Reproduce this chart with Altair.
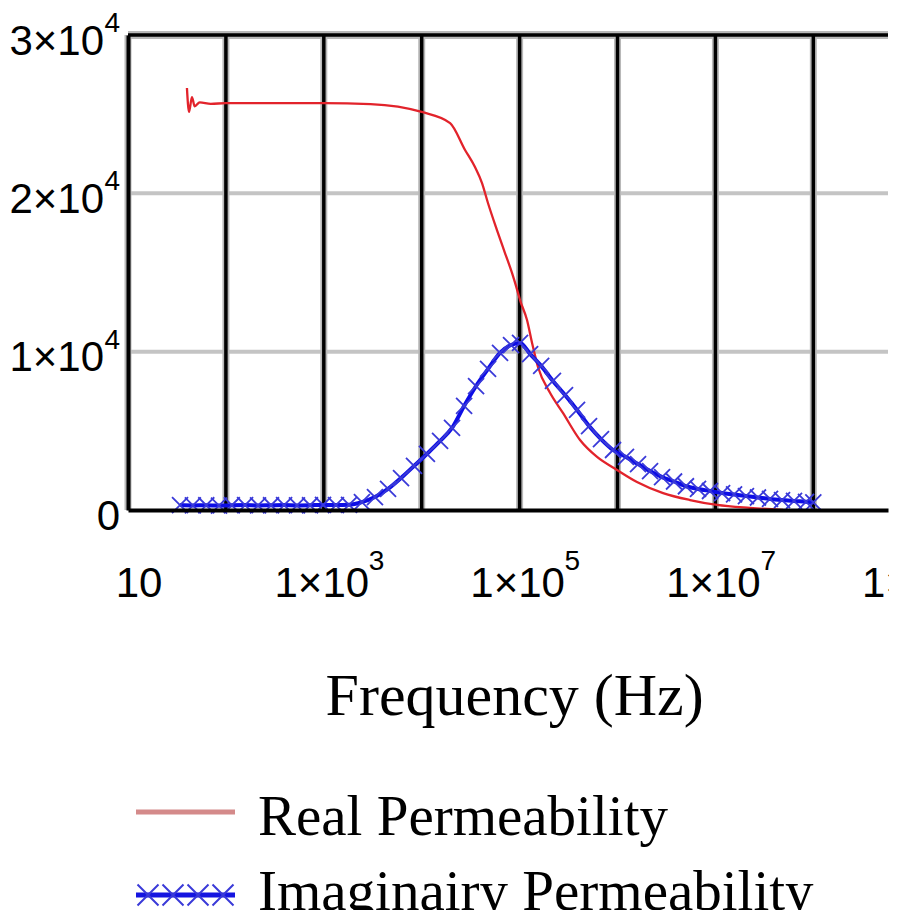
import altair as alt
import pandas as pd

# ---- data ----
freq_real = [40, 42, 45, 48, 54, 70, 100, 300, 1000, 3000,
             10000, 19500, 27700, 35000, 41300, 47500, 58700, 70900, 83600, 96400,
             101000, 119000, 134000, 154000, 205000, 277000, 414000, 618000, 989000, 1580000,
             2920000, 5500000, 10400000, 22500000, 49000000]
mu_real = [26650, 25140, 26080, 25500, 25750, 25650, 25700, 25700, 25700, 25640,
           25140, 24440, 22740, 21660, 20650, 19390, 17680, 16230, 14970, 13700,
           13260, 12000, 10550, 9030, 7390, 6130, 4420, 3350, 2530, 1770,
           1070, 630, 320, 130, 0]

freq_imag = [34, 46, 63, 85, 115, 157, 213, 289, 393, 532,
             723, 982, 1330, 1810, 2450, 3330, 4530, 6150, 8340, 11300,
             15400, 20400, 27100, 35900, 47600, 63100, 81700, 101000, 128000, 166000,
             219000, 291000, 386000, 512000, 678000, 900000, 1220000, 1620000, 2150000, 2850000,
             3780000, 5000000, 6640000, 8800000, 11700000, 15500000, 20500000, 27200000, 36100000, 47900000,
             63500000, 84200000, 100000000]
mu_imag = [310, 290, 300, 280, 300, 310, 290, 300, 310, 290,
           300, 320, 310, 330, 500, 820, 1330, 2020, 2780, 3540,
           4360, 5180, 6570, 7830, 8910, 9920, 10420, 10550, 9850, 9100,
           8150, 7260, 6320, 5300, 4480, 3790, 3350, 2900, 2460, 2080,
           1800, 1500, 1330, 1200, 1070, 980, 880, 790, 700, 630,
           570, 520, 480]

# tick labels (mantissa part and superscript exponent part)
x_first_tick = [10]
x_first_label = ["10"]
x_pow_ticks = [1000, 100000, 10000000, 1000000000]
x_pow_labels = ["1×10", "1×10", "1×10", "1×10"]
x_pow_exps = ["3", "5", "7", "9"]
y_zero_tick = [0]
y_zero_label = ["0"]
y_pow_ticks = [10000, 20000, 30000]
y_pow_labels = ["1×10", "2×10", "3×10"]
y_pow_exps = ["4", "4", "4"]

v_grid = [10, 100, 1000, 10000, 100000, 1000000, 10000000, 100000000]
h_grid = [10000, 20000]
top_line = [30000]

series_names = ["Real Permeability", "Imaginairy Permeability"]
x_title = "Frequency (Hz)"

X_MAX = 5.79e8
xscale = alt.Scale(type="log", domain=[10, X_MAX], nice=False)
yscale = alt.Scale(domain=[0, 30000], nice=False, zero=False)

real = pd.DataFrame({"f": freq_real, "mu": mu_real})
imag = pd.DataFrame({"f": freq_imag, "mu": mu_imag})
one = pd.DataFrame({"k": [0]})

XMARK = "M-1,-1L1,1M-1,1L1,-1"
SANS = "Liberation Sans"
SERIF = "Liberation Serif"
LBL = 42
EXP = 28

x_axis = alt.Axis(labels=False, grid=False, ticks=False, tickSize=0,
                  domainColor="black", domainWidth=4, title=None, zindex=1)
y_axis = alt.Axis(labels=False, grid=False, ticks=False, tickSize=0,
                  domainColor="black", domainWidth=4, title=None, zindex=1)

hgrid = alt.Chart(pd.DataFrame({"y": h_grid})).mark_rule(color="#c4c4c4", strokeWidth=4).encode(
    y=alt.Y("y:Q", scale=yscale))
vgrid_halo = alt.Chart(pd.DataFrame({"f": v_grid})).mark_rule(color="#b8b8b8", strokeWidth=7).encode(
    x=alt.X("f:Q", scale=xscale))
top_halo = alt.Chart(pd.DataFrame({"y": top_line})).mark_rule(color="#b8b8b8", strokeWidth=8).encode(
    y=alt.Y("y:Q", scale=yscale))
vgrid = alt.Chart(pd.DataFrame({"f": v_grid[1:]})).mark_rule(color="black", strokeWidth=3.5).encode(
    x=alt.X("f:Q", scale=xscale))
top_border = alt.Chart(pd.DataFrame({"y": top_line})).mark_rule(color="black", strokeWidth=3.5).encode(
    y=alt.Y("y:Q", scale=yscale))

real_line = alt.Chart(real).mark_line(color="#e2232b", strokeWidth=2.3, interpolate="monotone").encode(
    x=alt.X("f:Q", scale=xscale, axis=x_axis),
    y=alt.Y("mu:Q", scale=yscale, axis=y_axis),
    order="f:Q")
imag_line = alt.Chart(imag).mark_line(color="#0d0de6", strokeWidth=4, interpolate="monotone").encode(
    x=alt.X("f:Q", scale=xscale), y=alt.Y("mu:Q", scale=yscale), order="f:Q")
imag_pts = alt.Chart(imag).mark_point(shape=XMARK, filled=False, color="#3a3ad8", strokeWidth=1.8,
                                      size=256, opacity=1).encode(
    x=alt.X("f:Q", scale=xscale), y=alt.Y("mu:Q", scale=yscale))

# x tick labels
x_first = alt.Chart(pd.DataFrame({"f": x_first_tick, "t": x_first_label})).mark_text(
    font=SANS, fontSize=LBL, color="black", align="center", baseline="alphabetic", dx=11).encode(
    x=alt.X("f:Q", scale=xscale), y=alt.value(562), text="t:N")
x_pow = alt.Chart(pd.DataFrame({"f": x_pow_ticks, "t": x_pow_labels})).mark_text(
    font=SANS, fontSize=LBL, color="black", align="center", baseline="alphabetic", dx=-2).encode(
    x=alt.X("f:Q", scale=xscale), y=alt.value(562), text="t:N")
x_exp = alt.Chart(pd.DataFrame({"f": x_pow_ticks, "t": x_pow_exps})).mark_text(
    font=SANS, fontSize=EXP, color="black", align="left", baseline="alphabetic", dx=45).encode(
    x=alt.X("f:Q", scale=xscale), y=alt.value(535), text="t:N")

# y tick labels
y_zero = alt.Chart(pd.DataFrame({"y": y_zero_tick, "t": y_zero_label})).mark_text(
    font=SANS, fontSize=LBL, color="black", align="right", baseline="alphabetic", dy=19.5).encode(
    x=alt.value(-8), y=alt.Y("y:Q", scale=yscale), text="t:N")
y_pow = alt.Chart(pd.DataFrame({"y": y_pow_ticks, "t": y_pow_labels})).mark_text(
    font=SANS, fontSize=LBL, color="black", align="right", baseline="alphabetic", dy=19.5).encode(
    x=alt.value(-24), y=alt.Y("y:Q", scale=yscale), text="t:N")
y_exp = alt.Chart(pd.DataFrame({"y": y_pow_ticks, "t": y_pow_exps})).mark_text(
    font=SANS, fontSize=EXP, color="black", align="right", baseline="alphabetic", dy=-3).encode(
    x=alt.value(-8), y=alt.Y("y:Q", scale=yscale), text="t:N")

title_txt = alt.Chart(one).mark_text(text=x_title, font=SERIF, fontSize=60, color="black",
                                     align="center", baseline="alphabetic", dx=-5).encode(
    x=alt.datum(100000), y=alt.value(680))

leg_real_line = alt.Chart(one).mark_rule(color="#d48a8a", strokeWidth=5).encode(
    x=alt.value(8), x2=alt.value(107), y=alt.value(777))
leg_imag_line = alt.Chart(one).mark_rule(color="#1515e0", strokeWidth=5).encode(
    x=alt.value(8), x2=alt.value(107), y=alt.value(860))
leg_marks = [alt.Chart(one).mark_point(shape=XMARK, filled=False, color="#3a3ad8", strokeWidth=2,
                                       size=441, opacity=1).encode(x=alt.value(px), y=alt.value(860))
             for px in [20, 45, 70, 95]]
leg_real_txt = alt.Chart(one).mark_text(text=series_names[0], font=SERIF, fontSize=57, color="black",
                                        align="left", baseline="alphabetic").encode(
    x=alt.value(130), y=alt.value(800))
leg_imag_txt = alt.Chart(one).mark_text(text=series_names[1], font=SERIF, fontSize=57, color="black",
                                        align="left", baseline="alphabetic").encode(
    x=alt.value(130), y=alt.value(875))

chart = alt.layer(
    hgrid, vgrid_halo, top_halo, vgrid, top_border,
    real_line, imag_line, imag_pts,
    x_first, x_pow, x_exp, y_zero, y_pow, y_exp,
    title_txt,
    leg_real_line, leg_imag_line, *leg_marks, leg_real_txt, leg_imag_txt
).properties(
    width=760, height=475,
    autosize=alt.AutoSizeParams(type="none"),
    padding={"left": 120, "top": 27, "right": 1, "bottom": 400},
    background="white",
).configure_view(stroke=None)

chart.save("out.html", embed_options={"renderer": "svg", "actions": False})
